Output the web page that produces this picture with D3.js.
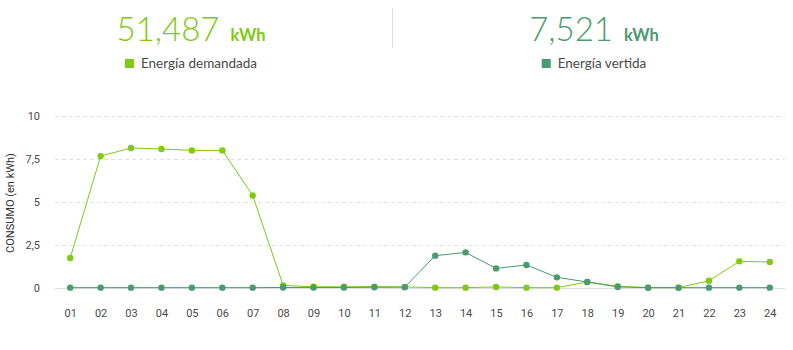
<!DOCTYPE html>
<html><head><meta charset="utf-8">
<script src="https://cdn.jsdelivr.net/npm/d3@7/dist/d3.min.js"></script>
<style>
body{margin:0;background:#fff;}
svg{display:block;font-family:Lato,"Open Sans",sans-serif;}
</style></head>
<body><svg id="c" width="793" height="350"></svg>
<script>
const hours = ["01","02","03","04","05","06","07","08","09","10","11","12","13","14","15","16","17","18","19","20","21","22","23","24"];
const demandada = [1.74,7.67,8.14,8.08,8.0,8.0,5.38,0.15,0.07,0.07,0.08,0.06,0.02,0.02,0.06,0.02,0.02,0.35,0.1,0.02,0.02,0.42,1.55,1.51];
const vertida = [0.02,0.02,0.02,0.02,0.02,0.02,0.02,0.03,0.03,0.03,0.04,0.05,1.88,2.07,1.14,1.34,0.62,0.35,0.06,0.02,0.02,0.02,0.02,0.02];
const yTicks = [0,2.5,5,7.5,10];
const totals = ["51,487","7,521"];
const seriesNames = ["Energía demandada","Energía vertida"];
const colors = ["#80c914","#4a9b6f"];

const svg = d3.select("#c");
const x = d3.scalePoint().domain(hours).range([55,785]).padding(0.5);
const y = d3.scaleLinear().domain([0,10]).range([288,116]);

// header
const centers = [191,594];
[0,1].forEach(i=>{
  const g = svg.append("g");
  const t = g.append("text").attr("y",41).attr("text-anchor","middle").attr("x",centers[i]).attr("fill",colors[i]);
  t.append("tspan").text(totals[i]).attr("font-size",33).attr("font-weight",300);
  t.append("tspan").text(" kWh").attr("font-size",16.5).attr("font-weight",700).attr("dx",7);
  const lg = g.append("g");
  const lt = lg.append("text").attr("y",68).attr("font-size",13.5).attr("fill","#4a4a4a").text(seriesNames[i]);
  const w = lt.node().getComputedTextLength();
  const start = centers[i] - (w+16)/2;
  lg.append("rect").attr("x",start).attr("y",59).attr("width",9).attr("height",9).attr("fill",colors[i]);
  lt.attr("x",start+16);
});
svg.append("line").attr("x1",392.5).attr("x2",392.5).attr("y1",8).attr("y2",48).attr("stroke","#e0e0e0");

// grid
svg.append("g").selectAll("line").data(yTicks.filter(d=>d>0)).join("line")
  .attr("x1",55).attr("x2",785).attr("y1",d=>y(d)+0.5).attr("y2",d=>y(d)+0.5)
  .attr("stroke","#e2e2e2").attr("stroke-dasharray","4,3");
svg.append("line").attr("x1",55).attr("x2",785).attr("y1",y(0)+0.5).attr("y2",y(0)+0.5).attr("stroke","#dedede");

// y axis labels
const fmt = d=> String(d).replace(".",",");
const yAxis = d3.axisLeft(y).tickValues(yTicks).tickFormat(fmt).tickSize(0).tickPadding(0);
const ya = svg.append("g").attr("transform","translate(40,0)").call(yAxis);
ya.select(".domain").remove();
ya.selectAll("text").attr("font-size",11).attr("fill","#4a4a4a").attr("font-family","Roboto, sans-serif");

const xAxis = d3.axisBottom(x).tickSize(0).tickPadding(0);
const xa = svg.append("g").attr("transform","translate(0,309)").call(xAxis);
xa.select(".domain").remove();
xa.selectAll("text").attr("font-size",11).attr("fill","#4a4a4a").attr("font-family","Roboto, sans-serif");

svg.append("text").attr("transform","translate(14,203) rotate(-90)").attr("text-anchor","middle")
  .attr("font-size",11).attr("fill","#333").attr("font-family","Roboto, sans-serif").text("CONSUMO (en kWh)");

// lines
const line = d3.line().x((d,i)=>x(hours[i])).y(d=>y(d));
[demandada, vertida].forEach((data,k)=>{
  svg.append("path").datum(data).attr("d",line).attr("fill","none").attr("stroke",colors[k]).attr("stroke-width",1);
});
[demandada, vertida].forEach((data,k)=>{
  svg.append("g").selectAll("circle").data(data).join("circle")
    .attr("cx",(d,i)=>x(hours[i])).attr("cy",d=>y(d)).attr("r",3.2).attr("fill",colors[k]);
});
</script></body></html>
